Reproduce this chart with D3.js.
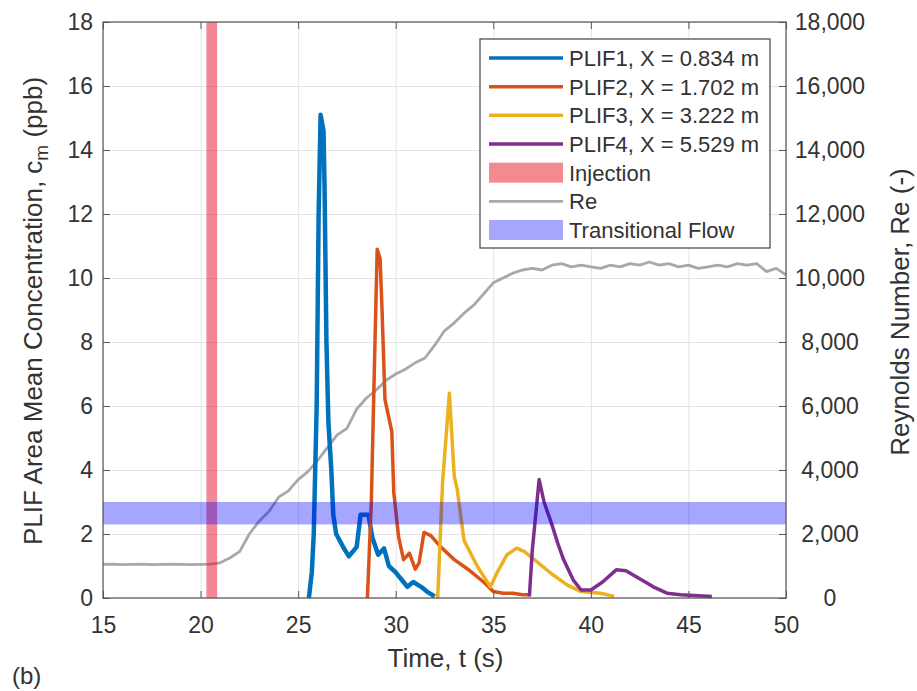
<!DOCTYPE html>
<html>
<head>
<meta charset="utf-8">
<script src="https://cdn.jsdelivr.net/npm/d3@7"></script>
<style>
  body { margin: 0; background: #fff; }
  svg text { font-family: "Liberation Sans", Arial, sans-serif; fill: #333; }
  .axis path { display: none; }
  .axis line { stroke: #555; }
  .grid line { stroke: #e3e3e3; }
  .grid path { display: none; }
</style>
</head>
<body>
<svg id="chart"></svg>
<script>
// 数据：时间 (s) 与浓度 (ppb)
const plif1 = [
  [25.55, 0], [25.7, 0.8], [25.8, 2.0], [25.95, 6], [26.05, 12], [26.15, 15.1], [26.3, 14.6],
  [26.35, 13.0], [26.45, 8.0], [26.55, 5.5], [26.7, 4.0], [26.8, 2.6], [26.95, 2.0], [27.3, 1.6],
  [27.6, 1.3], [28.0, 1.6], [28.2, 2.6], [28.6, 2.6], [28.8, 1.9], [29.1, 1.35], [29.4, 1.55],
  [29.65, 1.0], [30.0, 0.8], [30.4, 0.5], [30.6, 0.35], [30.9, 0.5], [31.3, 0.35], [31.6, 0.2], [32.0, 0.05]
];
const plif2 = [
  [28.55, 0], [28.75, 3], [28.9, 7], [29.05, 10.9], [29.2, 10.6], [29.3, 9], [29.45, 6.2],
  [29.8, 5.2], [29.9, 3.3], [30.15, 1.9], [30.4, 1.2], [30.7, 1.4], [31.0, 0.9], [31.2, 1.1],
  [31.45, 2.05], [31.8, 1.95], [32.3, 1.6], [33.0, 1.2], [33.7, 0.9], [34.5, 0.5], [35.0, 0.2],
  [35.5, 0.15], [36.0, 0.15], [36.5, 0.1], [36.9, 0.1]
];
const plif3 = [
  [32.15, 0], [32.4, 3.6], [32.75, 6.4], [33.0, 3.8], [33.15, 3.4], [33.5, 1.8], [34.2, 0.97],
  [34.85, 0.35], [35.2, 0.8], [35.7, 1.35], [36.2, 1.56], [36.6, 1.45], [37.1, 1.2], [38.0, 0.75],
  [38.8, 0.4], [39.5, 0.2], [40.5, 0.15], [41.2, 0.05]
];
const plif4 = [
  [36.85, 0.05], [37.0, 1.5], [37.35, 3.7], [37.6, 3.0], [38.0, 2.3], [38.3, 1.72], [38.6, 1.2],
  [39.1, 0.56], [39.5, 0.25], [40.0, 0.25], [40.6, 0.5], [41.3, 0.88], [41.8, 0.85], [42.5, 0.6],
  [43.2, 0.35], [43.9, 0.15], [44.6, 0.1], [45.3, 0.08], [46.2, 0.05]
];

// 雷诺数 (每 0.5 s)
const reTime = d3.range(15, 50.01, 0.5);
const reValues = [
  1050, 1060, 1040, 1050, 1060, 1040, 1050, 1060, 1050, 1040, 1050, 1060, 1100, 1250, 1450,
  2000, 2400, 2700, 3150, 3350, 3700, 3950, 4300, 4700, 5100, 5300, 5900, 6250, 6500, 6800,
  7000, 7150, 7350, 7500, 7900, 8350, 8600, 8900, 9150, 9500, 9850, 10000, 10150, 10250, 10300,
  10250, 10400, 10450, 10350, 10400, 10350, 10300, 10400, 10350, 10450, 10400, 10500, 10400,
  10450, 10350, 10400, 10300, 10350, 10400, 10350, 10450, 10400, 10450, 10200, 10300, 10100
];

const injection = [20.3, 20.85];
const transitional = [2300, 3000];

const xTicks = [15, 20, 25, 30, 35, 40, 45, 50];
const yLeftTicks = [0, 2, 4, 6, 8, 10, 12, 14, 16, 18];
const yRightTicks = [0, 2000, 4000, 6000, 8000, 10000, 12000, 14000, 16000, 18000];

const series = [
  { name: "PLIF1, X = 0.834 m", data: plif1, color: "#0072BD", width: 4.5 },
  { name: "PLIF2, X = 1.702 m", data: plif2, color: "#D95319", width: 3.5 },
  { name: "PLIF3, X = 3.222 m", data: plif3, color: "#EDB120", width: 3.5 },
  { name: "PLIF4, X = 5.529 m", data: plif4, color: "#7E2F8E", width: 3.5 }
];

// 画布与坐标区
const W = 917, H = 691;
const box = { left: 103, right: 786, top: 22, bottom: 598 };

const svg = d3.select("#chart").attr("width", W).attr("height", H);

const x = d3.scaleLinear().domain([15, 50]).range([box.left, box.right]);
const yL = d3.scaleLinear().domain([0, 18]).range([box.bottom, box.top]);
const yR = d3.scaleLinear().domain([0, 18000]).range([box.bottom, box.top]);

// 网格
svg.append("g").attr("class", "grid")
  .attr("transform", `translate(0,${box.bottom})`)
  .call(d3.axisBottom(x).tickValues(xTicks).tickSize(-(box.bottom - box.top)).tickFormat(""));
svg.append("g").attr("class", "grid")
  .attr("transform", `translate(${box.left},0)`)
  .call(d3.axisLeft(yL).tickValues(yLeftTicks).tickSize(-(box.right - box.left)).tickFormat(""));

const plot = svg.append("g");

// 雷诺数曲线
const reLine = d3.line().x((d, i) => x(reTime[i])).y(d => yR(d));
plot.append("path")
  .datum(reValues)
  .attr("d", reLine)
  .attr("fill", "none")
  .attr("stroke", "#a8a8a8")
  .attr("stroke-width", 2.8)
  .attr("stroke-linejoin", "round");

// PLIF 曲线
const line = d3.line().x(d => x(d[0])).y(d => yL(d[1]));
series.forEach(s => {
  plot.append("path")
    .datum(s.data)
    .attr("d", line)
    .attr("fill", "none")
    .attr("stroke", s.color)
    .attr("stroke-width", s.width)
    .attr("stroke-linejoin", "round");
});

// 注入区间
plot.append("rect")
  .attr("x", x(injection[0]))
  .attr("y", box.top)
  .attr("width", x(injection[1]) - x(injection[0]))
  .attr("height", box.bottom - box.top)
  .attr("fill", "#e8102a")
  .attr("opacity", 0.5);

// 过渡流区间
plot.append("rect")
  .attr("x", box.left)
  .attr("y", yR(transitional[1]))
  .attr("width", box.right - box.left)
  .attr("height", yR(transitional[0]) - yR(transitional[1]))
  .attr("fill", "#0000ff")
  .attr("opacity", 0.35);

// 外框
svg.append("rect")
  .attr("x", box.left).attr("y", box.top)
  .attr("width", box.right - box.left).attr("height", box.bottom - box.top)
  .attr("fill", "none").attr("stroke", "#555").attr("stroke-width", 1.2);

// 坐标轴
const tickFont = "23px";
const gx = svg.append("g").attr("class", "axis")
  .attr("transform", `translate(0,${box.bottom})`)
  .call(d3.axisBottom(x).tickValues(xTicks).tickSizeInner(-7).tickSizeOuter(0).tickPadding(19));
gx.selectAll("text").style("font-size", tickFont);

svg.append("g").attr("class", "axis")
  .attr("transform", `translate(0,${box.top})`)
  .call(d3.axisTop(x).tickValues(xTicks).tickSizeInner(-7).tickSizeOuter(0).tickFormat(""));

const gyl = svg.append("g").attr("class", "axis")
  .attr("transform", `translate(${box.left},0)`)
  .call(d3.axisLeft(yL).tickValues(yLeftTicks).tickSizeInner(-7).tickSizeOuter(0).tickPadding(10));
gyl.selectAll("text").style("font-size", tickFont);

const gyr = svg.append("g").attr("class", "axis")
  .attr("transform", `translate(${box.right},0)`)
  .call(d3.axisRight(yR).tickValues(yRightTicks).tickSizeInner(-7).tickSizeOuter(0)
    .tickPadding(44).tickFormat(d3.format(",")));
gyr.selectAll("text").style("font-size", tickFont).attr("text-anchor", "middle");

// 轴标题
svg.append("text")
  .attr("x", (box.left + box.right) / 2 + 1).attr("y", 667)
  .attr("text-anchor", "middle")
  .style("font-size", "26px")
  .text("Time, t (s)");

const yLab = svg.append("text")
  .attr("transform", `translate(42,${(box.top + box.bottom) / 2 + 1}) rotate(-90)`)
  .attr("text-anchor", "middle")
  .style("font-size", "26px");
yLab.append("tspan").text("PLIF Area Mean Concentration, c");
yLab.append("tspan").attr("dy", 6).style("font-size", "19px").text("m");
yLab.append("tspan").attr("dy", -6).text(" (ppb)");

svg.append("text")
  .attr("transform", `translate(909,${(box.top + box.bottom) / 2 + 2}) rotate(-90)`)
  .attr("text-anchor", "middle")
  .style("font-size", "26px")
  .text("Reynolds Number, Re (-)");

svg.append("text")
  .attr("x", 12).attr("y", 684)
  .style("font-size", "24px")
  .text("(b)");

// 图例
const legend = svg.append("g");
legend.append("rect")
  .attr("x", 480).attr("y", 39).attr("width", 290).attr("height", 209)
  .attr("fill", "#fff").attr("stroke", "#444").attr("stroke-width", 1.2);

const legendItems = [
  ...series.map(s => ({ name: s.name, type: "line", color: s.color, width: 3.5 })),
  { name: "Injection", type: "patch", color: "#f38a8f" },
  { name: "Re", type: "line", color: "#a8a8a8", width: 2.8 },
  { name: "Transitional Flow", type: "patch", color: "#a6a6fa" }
];
const rowY = d3.scaleLinear().domain([0, 6]).range([58, 230]);
legendItems.forEach((d, i) => {
  const cy = rowY(i);
  if (d.type === "line") {
    legend.append("line")
      .attr("x1", 489).attr("x2", 563).attr("y1", cy).attr("y2", cy)
      .attr("stroke", d.color).attr("stroke-width", d.width);
  } else {
    legend.append("rect")
      .attr("x", 489).attr("y", cy - 10).attr("width", 74).attr("height", 20)
      .attr("fill", d.color);
  }
  legend.append("text")
    .attr("x", 569).attr("y", cy).attr("dy", "0.36em")
    .style("font-size", "22px")
    .text(d.name);
});
</script>
</body>
</html>
